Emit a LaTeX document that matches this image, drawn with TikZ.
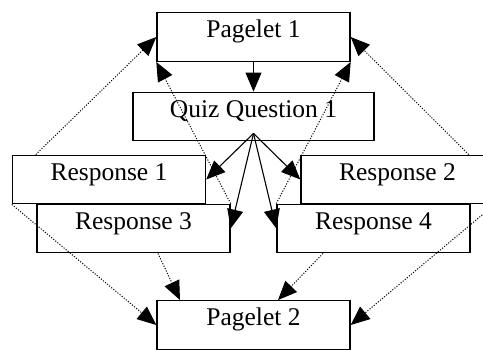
\documentclass[tikz,border=0pt]{standalone}
\usepackage{fontspec}
\setmainfont{Liberation Serif}
\usetikzlibrary{arrows.meta}

\begin{document}
\begin{tikzpicture}[x=1pt, y=1pt,
        box/.style={draw, fill=white, line width=1.4pt, minimum width=193pt, inner xsep=0pt, inner ysep=0pt,
                    text height=25pt, text depth=23.5pt, font=\fontsize{25.5}{30}\selectfont},
        link/.style={-{Triangle[length=19pt, width=16pt]}, line width=1.1pt},
        back/.style={-{Triangle[length=19pt, width=16pt]}, line width=1pt, dash pattern=on 1.1pt off 1.6pt}]
        \useasboundingbox (0,0) rectangle (483,350);

        % Pages
        \node[box] (page1) at (253.5,313) {Pagelet 1};
        \node[box, minimum width=241pt] (quiz) at (253.5,233.5) {Quiz Question 1};
        \node[box] (page2) at (253.5,25) {Pagelet 2};

        % Responses
        \node[box] (resp1) at (109,170.5) {Response 1};
        \node[box] (resp2) at (397.5,170.5) {Response 2};
        \node[box] (resp3) at (133.5,121.5) {Response 3};
        \node[box] (resp4) at (373.5,121.5) {Response 4};

        % Arrows question
        \draw[link] (page1) -- (quiz);
        \coordinate (fan) at ([yshift=8pt]quiz.south);
        \draw[link] (fan) -- (resp1.east);
        \draw[link] (fan) -- (resp3.east);
        \draw[link] (fan) -- (resp4.west);
        \draw[link] (fan) -- (resp2.west);

        % Back to pagelet 1
        \draw[back] ([xshift=24pt]resp1.north west) -- (page1.west);
        \draw[back] ([xshift=-26pt]resp2.north east) -- (page1.east);
        \draw[back] (resp3.north east) -- (page1.south west);
        \draw[back] (resp4.north west) -- (page1.south east);

        % On to pagelet 2
        \draw[back] (resp1.south west) -- (page2.west);
        \draw[back] ([xshift=24.5pt]resp3.south) -- ([xshift=-73.5pt]page2.north);
        \draw[back] ([xshift=-50.5pt]resp4.south) -- ([xshift=24.5pt]page2.north);
        \draw[back] (resp2.south east) -- (page2.east);
\end{tikzpicture}
\end{document}
